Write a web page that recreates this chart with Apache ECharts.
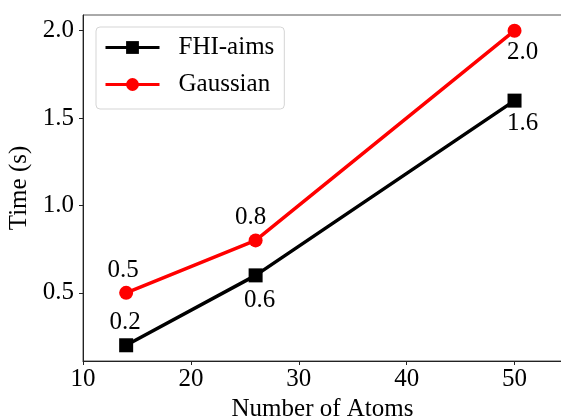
<!DOCTYPE html>
<html>
<head>
<meta charset="utf-8">
<script src="https://cdn.jsdelivr.net/npm/echarts@6/dist/echarts.min.js"></script>
<style>
html, body { margin: 0; padding: 0; background: #fff; }
#main { width: 561px; height: 418px; }
</style>
</head>
<body>
<div id="main"></div>
<script>
var atoms = [14, 26, 50];
var fhiTimes = [0.2, 0.6, 1.6];
var gaussTimes = [0.5, 0.8, 2.0];
var xTicks = [10, 20, 30, 40, 50];
var yTicks = [0.5, 1.0, 1.5, 2.0];

// label offsets (dx, dy) for each point, style only
var fhiOffsets = [[-1, -23], [4, 25], [8, 23]];
var gaussOffsets = [[-3, -22], [-5, -23], [8, 22]];

var FONT = 'Liberation Serif';
var FS = 25;

function buildData(ys, offsets) {
	var out = [];
	for (var i = 0; i < atoms.length; i++) {
		out.push({
			value: [atoms[i], ys[i]],
			label: {
				show: true,
				position: 'inside',
				offset: offsets[i],
				formatter: ys[i].toFixed(1),
				color: '#000',
				fontFamily: FONT,
				fontSize: FS
			}
		});
	}
	return out;
}

var dom = document.getElementById('main');
var myChart = echarts.init(dom);
var option = {
	animation: false,
	grid: {
		left: 83,
		top: 15,
		right: -1,
		bottom: 57,
		outerBoundsMode: 'none',
		containLabel: false,
		show: true,
		borderColor: '#555',
		borderWidth: 1
	},
	legend: {
		orient: 'vertical',
		left: 96,
		top: 27,
		padding: [8, 10, 12, 8],
		backgroundColor: '#fff',
		borderColor: '#d5d5d5',
		borderWidth: 1,
		borderRadius: 4,
		itemWidth: 54,
		itemHeight: 16,
		itemGap: 12,
		lineStyle: { width: 3 },
		textStyle: {
			fontFamily: FONT,
			fontSize: FS,
			color: '#000',
			lineHeight: 24,
			padding: [0, 0, 0, 14]
		},
		data: ['FHI-aims', 'Gaussian']
	},
	xAxis: {
		type: 'value',
		min: 10,
		max: 54.4,
		name: 'Number of Atoms',
		nameLocation: 'middle',
		nameGap: 34,
		nameTextStyle: { fontFamily: FONT, fontSize: FS, color: '#000' },
		axisLine: { onZero: false, lineStyle: { color: '#222', width: 1 } },
		axisTick: { show: true, length: 4, inside: false, customValues: xTicks, lineStyle: { color: '#222' } },
		axisLabel: {
			customValues: xTicks,
			margin: 6,
			fontFamily: FONT,
			fontSize: FS,
			color: '#000'
		},
		splitLine: { show: false }
	},
	yAxis: {
		type: 'value',
		min: 0.11,
		max: 2.09,
		name: 'Time (s)',
		nameLocation: 'middle',
		nameGap: 49,
		nameTextStyle: { fontFamily: FONT, fontSize: FS, color: '#000' },
		axisLine: { show: true, onZero: false, lineStyle: { color: '#222', width: 1 } },
		axisTick: { show: true, length: 4, customValues: yTicks, lineStyle: { color: '#222' } },
		axisLabel: {
			customValues: yTicks,
			margin: 9,
			fontFamily: FONT,
			fontSize: FS,
			color: '#000',
			formatter: function (v) { return v.toFixed(1); }
		},
		splitLine: { show: false }
	},
	series: [
		{
			name: 'FHI-aims',
			type: 'line',
			data: buildData(fhiTimes, fhiOffsets),
			symbol: 'rect',
			symbolSize: 14,
			itemStyle: { color: '#000' },
			lineStyle: { color: '#000', width: 3.5 },
			z: 3
		},
		{
			name: 'Gaussian',
			type: 'line',
			data: buildData(gaussTimes, gaussOffsets),
			symbol: 'circle',
			symbolSize: 14,
			itemStyle: { color: '#ff0000' },
			lineStyle: { color: '#ff0000', width: 3.5 },
			z: 3
		}
	]
};
myChart.setOption(option);
</script>
</body>
</html>
